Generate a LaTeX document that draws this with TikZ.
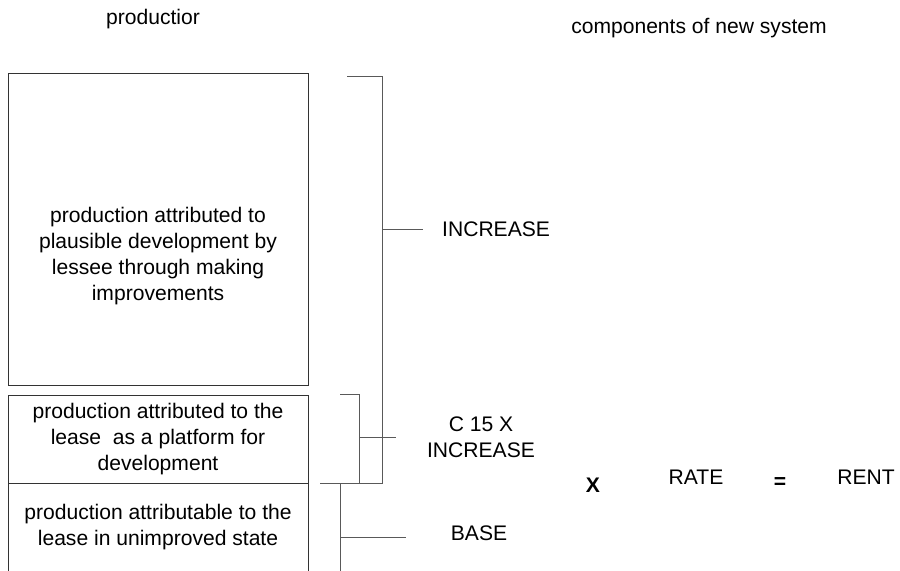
\documentclass[tikz,border=0pt]{standalone}
\usepackage{fontspec}
\setmainfont{Liberation Sans}
\usepackage{tikz}
\usetikzlibrary{calc}
\definecolor{color1}{rgb}{0.2,0.2,0.2}
\definecolor{color2}{rgb}{0.35,0.35,0.35}

\begin{document}
\begin{tikzpicture}[x=0.02cm,y=-0.02cm,
  every node/.style={font=\fontsize{12}{14.8}\selectfont},
  boxtext/.style={align=center,anchor=center},
  box/.style={draw=color1,line width=0.55pt},
  bracket/.style={draw=color2,line width=0.5pt}]

  \useasboundingbox (0,0) rectangle (900,571);

  \node (prod) at (153,19) {productior};
  \node (comp) at (699,28) {components of new system};

  % the three production boxes
  \draw [box] (8,73) rectangle (308,385);
  \draw [box] (8,395) rectangle (308,483);
  \draw [box] (8,571) -- (8,483) -- (308,483) -- (308,571);

  \node [boxtext] (upper) at (158,256) {production attributed to\\plausible development by\\lessee through making\\improvements};
  \node [boxtext] (middle) at (158,439) {production attributed to the\\lease\ \ as a platform for\\development};
  \node [boxtext] (lower) at (158,527) {production attributable to the\\lease in unimproved state};

  % brackets: top y / bottom y / left x / spine x / tick y / tick end x
  \foreach \n/\ya/\yb/\xa/\xs/\ty/\tx in {a/76/483/347/382/229/423, b/394/483/340/359/437/396, c/483/571/320/340/537/406}
  {
    \coordinate (\n top) at (\xa,\ya);
    \coordinate (\n bot) at (\xa,\yb);
    \coordinate (\n tick) at (\xs,\ty);
    \coordinate (\n end) at (\tx,\ty);
    \draw [bracket] (\n top) -| (\n bot -| \n tick) -- (\n bot);
    \draw [bracket] (\n tick) -- (\n end);
  }

  \node [anchor=west] (inc) at (436,229) {INCREASE};
  \node [align=center] (cinc) at (481,437) {C 15 X\\INCREASE};
  \node (base) at (479,533) {BASE};

  \node (times) at (593,485) {\textbf{X}};
  \node (rate) at (696,477) {RATE};
  \node (eq) at (780,483) {\textbf{=}};
  \node (rent) at (866,477) {RENT};

\end{tikzpicture}
\end{document}
